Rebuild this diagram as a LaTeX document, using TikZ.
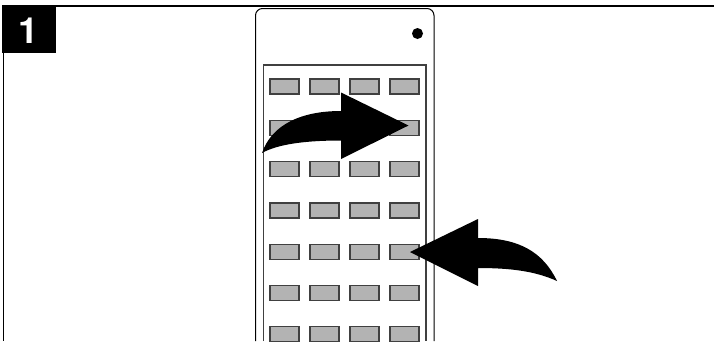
\documentclass[tikz,border=0pt]{standalone}
\usepackage{fontspec}
\setmainfont{TeX Gyre Heros}
\definecolor{keyfill}{HTML}{B3B3B3}
\definecolor{keyedge}{HTML}{404040}
\tikzset{
  keybtn/.style={fill=keyfill,draw=keyedge,line width=1.3pt},
  outline/.style={draw=black,line width=1pt},
  panel/.style={draw=black!75,line width=1.2pt},
  curved arrow shape/.style={fill=black,draw=none}
}
\begin{document}
\begin{tikzpicture}[x=1pt,y=-1pt]
\useasboundingbox[fill=white] (0,0) rectangle (714,341);
\draw[line width=2pt] (2,6) -- (714,6);
\draw[line width=1pt] (3,53) -- (3,341);
\node[fill=black,minimum width=54pt,minimum height=47pt,inner sep=0pt,anchor=north west] (badge) at (2,6) {};
\node[text=white,font=\bfseries\fontsize{36pt}{36pt}\selectfont,inner sep=0pt] (num) at (29,30.5) {1};
\draw[outline,rounded corners=7pt] (255.5,341) -- (255.5,8.5) -- (434,8.5) -- (434,341);
\fill (417.5,33.5) circle (5.5pt);
\draw[panel] (263.5,341) -- (263.5,65) -- (426,65) -- (426,341);
\begin{scope}
\clip (0,0) rectangle (714,341);
\foreach \y in {79,120.3,161.6,202.9,244.2,285.5,326.8}
  \foreach \x in {270,310,350,390}
    \draw[keybtn] (\x,\y) rectangle ++(29,15);
\end{scope}
\fill[curved arrow shape] (262,153) .. controls (272,124) and (302,111) .. (341,111)
  -- (341,92.5) -- (408.5,125.5) -- (341,159) -- (341,140.5)
  .. controls (306,140.5) and (278,144) .. (262,153) -- cycle;
\fill[curved arrow shape] (557,281) .. controls (543,252) and (519,238) .. (478,238)
  -- (478,219) -- (410,252) -- (478,286) -- (478,268)
  .. controls (510,268) and (535,271) .. (557,281) -- cycle;
\end{tikzpicture}
\end{document}
